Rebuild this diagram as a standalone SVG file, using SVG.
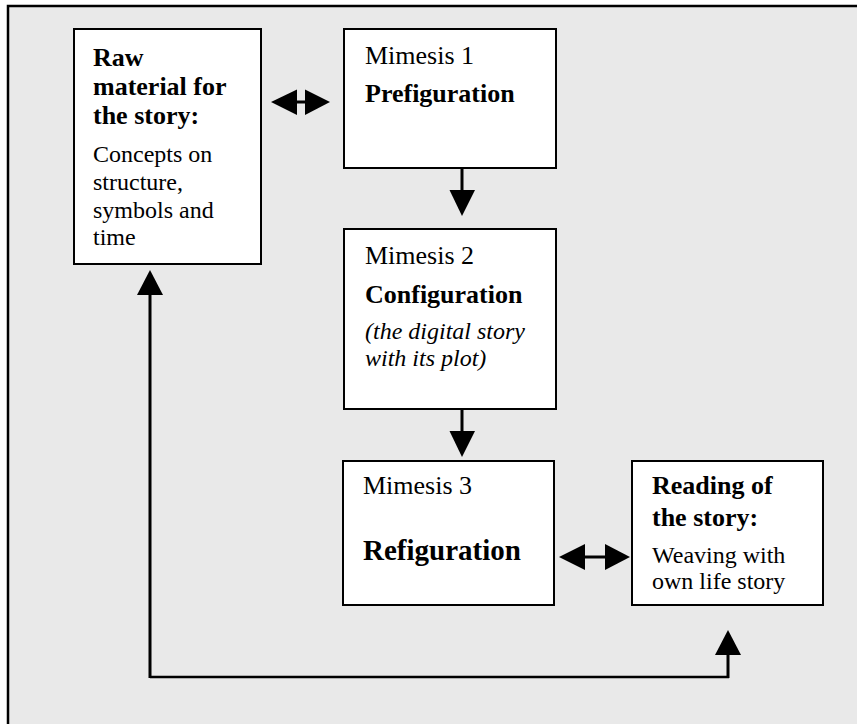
<svg xmlns="http://www.w3.org/2000/svg" width="857" height="724" viewBox="0 0 857 724">
  <style>
    .box { fill: #ffffff; stroke: #000000; stroke-width: 2; }
    .t { font-family: "Liberation Serif", "Times New Roman", serif; fill: #000000; }
    .b { font-weight: bold; }
    .i { font-style: italic; }
    .line { stroke: #000000; fill: none; }
    .head { fill: #000000; }
  </style>

  <!-- page background and frame -->
  <rect x="0" y="0" width="857" height="724" fill="#ffffff"/>
  <rect x="8" y="6" width="849" height="718" fill="#e9e9e9"/>
  <path d="M8 724 V6 H857" fill="none" stroke="#000000" stroke-width="2.5"/>

  <!-- nodes -->
  <g id="raw-material">
    <rect class="box" x="74" y="29" width="187" height="235"/>
    <text class="t b" x="93" y="66" font-size="26">Raw</text>
    <text class="t b" x="93" y="95" font-size="26">material for</text>
    <text class="t b" x="93" y="124" font-size="26">the story:</text>
    <text class="t" x="93" y="162" font-size="24">Concepts on</text>
    <text class="t" x="93" y="190" font-size="24">structure,</text>
    <text class="t" x="93" y="218" font-size="24">symbols and</text>
    <text class="t" x="93" y="245" font-size="24">time</text>
  </g>

  <g id="mimesis-1">
    <rect class="box" x="344" y="29" width="212" height="139"/>
    <text class="t" x="365" y="64" font-size="26">Mimesis 1</text>
    <text class="t b" x="365" y="102" font-size="26">Prefiguration</text>
  </g>

  <g id="mimesis-2">
    <rect class="box" x="344" y="229" width="212" height="180"/>
    <text class="t" x="365" y="264" font-size="26">Mimesis 2</text>
    <text class="t b" x="365" y="303" font-size="26">Configuration</text>
    <text class="t i" x="365" y="339" font-size="24">(the digital story</text>
    <text class="t i" x="365" y="366" font-size="24">with its plot)</text>
  </g>

  <g id="mimesis-3">
    <rect class="box" x="343" y="461" width="211" height="144"/>
    <text class="t" x="363" y="494" font-size="26">Mimesis 3</text>
    <text class="t b" x="363" y="560" font-size="29">Refiguration</text>
  </g>

  <g id="reading">
    <rect class="box" x="632" y="461" width="191" height="144"/>
    <text class="t b" x="652" y="494" font-size="26">Reading of</text>
    <text class="t b" x="652" y="526" font-size="26">the story:</text>
    <text class="t" x="652" y="563" font-size="24">Weaving with</text>
    <text class="t" x="652" y="589" font-size="24">own life story</text>
  </g>

  <!-- connectors -->
  <g id="connectors">
    <!-- raw material <-> mimesis 1 -->
    <line class="line" x1="296" y1="102" x2="306" y2="102" stroke-width="3"/>
    <polygon class="head" points="271,102 297,89.5 297,115"/>
    <polygon class="head" points="330,102 305,89.5 305,115"/>

    <!-- mimesis 1 -> mimesis 2 -->
    <line class="line" x1="462" y1="168" x2="462" y2="191" stroke-width="3"/>
    <polygon class="head" points="449.5,190 475,190 462,216"/>

    <!-- mimesis 2 -> mimesis 3 -->
    <line class="line" x1="462" y1="409" x2="462" y2="432" stroke-width="3"/>
    <polygon class="head" points="449.5,431 475,431 462,457"/>

    <!-- mimesis 3 <-> reading -->
    <line class="line" x1="584" y1="557" x2="606" y2="557" stroke-width="3"/>
    <polygon class="head" points="559,557 585,544 585,570"/>
    <polygon class="head" points="630,557 605,544 605,570"/>

    <!-- feedback loop: reading <-> raw material -->
    <line class="line" x1="150" y1="294" x2="150" y2="678" stroke-width="3"/>
    <line class="line" x1="150" y1="677" x2="729" y2="677" stroke-width="2.5"/>
    <line class="line" x1="728" y1="678" x2="728" y2="654" stroke-width="3"/>
    <polygon class="head" points="150,270 137,295 163,295"/>
    <polygon class="head" points="728,630 715,655 741,655"/>
  </g>
</svg>
